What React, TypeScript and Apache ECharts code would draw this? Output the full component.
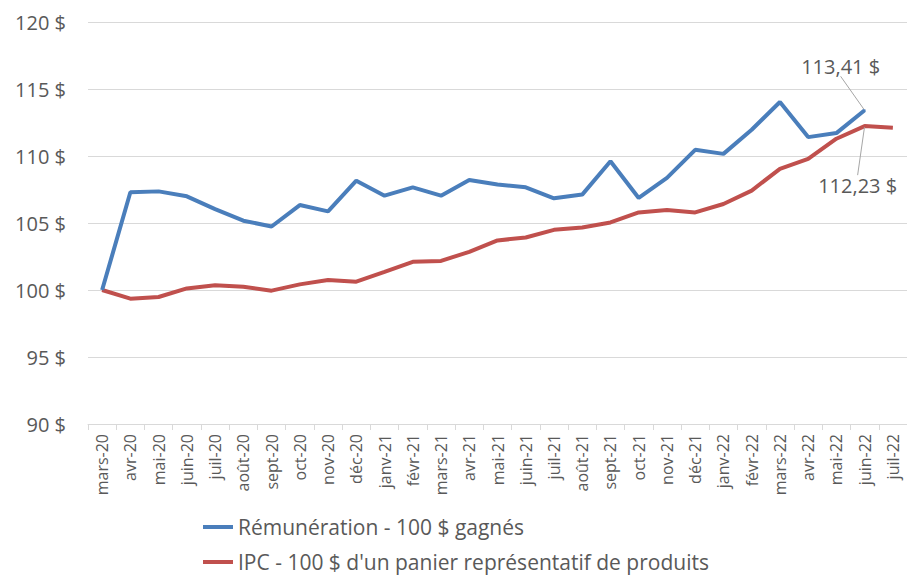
import React, { useEffect, useRef } from "react";
import * as echarts from "echarts";

const categories = [
  "mars-20", "avr-20", "mai-20", "juin-20", "juil-20", "août-20", "sept-20", "oct-20",
  "nov-20", "déc-20", "janv-21", "févr-21", "mars-21", "avr-21", "mai-21", "juin-21",
  "juil-21", "août-21", "sept-21", "oct-21", "nov-21", "déc-21", "janv-22", "févr-22",
  "mars-22", "avr-22", "mai-22", "juin-22", "juil-22",
];

const remuneration = [
  100, 107.29, 107.36, 106.99, 106.04, 105.17, 104.74, 106.34, 105.87, 108.16,
  107.04, 107.66, 107.04, 108.21, 107.87, 107.66, 106.84, 107.12, 109.61, 106.87,
  108.37, 110.46, 110.16, 111.96, 114.03, 111.41, 111.71, 113.41, null,
];

const ipc = [
  100, 99.35, 99.48, 100.12, 100.35, 100.25, 99.95, 100.42, 100.75, 100.62,
  101.35, 102.1, 102.17, 102.85, 103.7, 103.92, 104.49, 104.67, 105.04, 105.79,
  105.97, 105.79, 106.42, 107.42, 109.04, 109.79, 111.29, 112.23, 112.11,
];

const seriesNames = [
  "Rémunération - 100 $ gagnés",
  "IPC - 100 $ d'un panier représentatif de produits",
];

const labelIndex = 27;
const FONT = "'Open Sans', 'Noto Sans', sans-serif";
const GRAY = "#595959";

function fmt(v: number) {
  return v.toFixed(2).replace(".", ",") + " $";
}

function withLabel(values: (number | null)[], color: string, position: string) {
  return values.map((v, i) =>
    i === labelIndex
      ? {
          value: v,
          symbol: "circle",
          symbolSize: 2,
          itemStyle: { color },
          label: {
            show: true,
            position,
            formatter: (p: any) => fmt(p.value),
            fontSize: 20,
            color: GRAY,
            fontFamily: FONT,
          },
        }
      : v
  );
}

export default function App() {
  const ref = useRef<HTMLDivElement>(null);
  useEffect(() => {
    document.body.style.margin = "0";
    const chart = echarts.init(ref.current!, null, { renderer: "svg" });
    chart.setOption({
      animation: false,
      textStyle: { fontFamily: FONT },
      grid: { left: 88, right: -3, top: 22, bottom: 151, containLabel: false },
      legend: {
        orient: "vertical",
        left: 203,
        top: 516,
        height: 120,
        padding: 0,
        itemGap: 13,
        itemWidth: 30,
        itemHeight: 4,
        icon: "rect",
        data: seriesNames,
        textStyle: { fontSize: 21, lineHeight: 22, color: GRAY, fontFamily: FONT },
      },
      xAxis: {
        type: "category",
        data: categories,
        boundaryGap: true,
        axisLine: { lineStyle: { color: "#d9d9d9", width: 1 } },
        axisTick: { show: true, length: 6, lineStyle: { color: "#d9d9d9" } },
        axisLabel: {
          rotate: 90,
          interval: 0,
          fontSize: 16,
          color: GRAY,
          margin: 10,
          fontFamily: FONT,
        },
      },
      yAxis: {
        type: "value",
        min: 90,
        max: 120,
        interval: 5,
        axisLine: { show: false },
        axisTick: { show: false },
        axisLabel: {
          formatter: "{value} $",
          fontSize: 20,
          color: GRAY,
          margin: 22,
          fontFamily: FONT,
        },
        splitLine: { lineStyle: { color: "#d9d9d9", width: 1 } },
      },
      series: [
        {
          name: seriesNames[0],
          type: "line",
          data: withLabel(remuneration, "#4a7ebb", "top"),
          symbol: "none",
          showSymbol: true,
          color: "#4a7ebb",
          lineStyle: { width: 4, color: "#4a7ebb" },
          labelLine: { show: true, lineStyle: { color: "#a6a6a6", width: 1 } },
          labelLayout: (p: any) => (p.dataIndex === labelIndex ? { dx: -24, dy: -28 } : {}),
          z: 3,
        },
        {
          name: seriesNames[1],
          type: "line",
          data: withLabel(ipc, "#c0504d", "bottom"),
          symbol: "none",
          showSymbol: true,
          color: "#c0504d",
          lineStyle: { width: 4, color: "#c0504d" },
          labelLine: { show: true, lineStyle: { color: "#a6a6a6", width: 1 } },
          labelLayout: (p: any) => (p.dataIndex === labelIndex ? { dx: -7, dy: 43 } : {}),
          z: 2,
        },
      ],
    });
    return () => chart.dispose();
  }, []);
  return <div ref={ref} style={{ width: 907, height: 575 }} />;
}
